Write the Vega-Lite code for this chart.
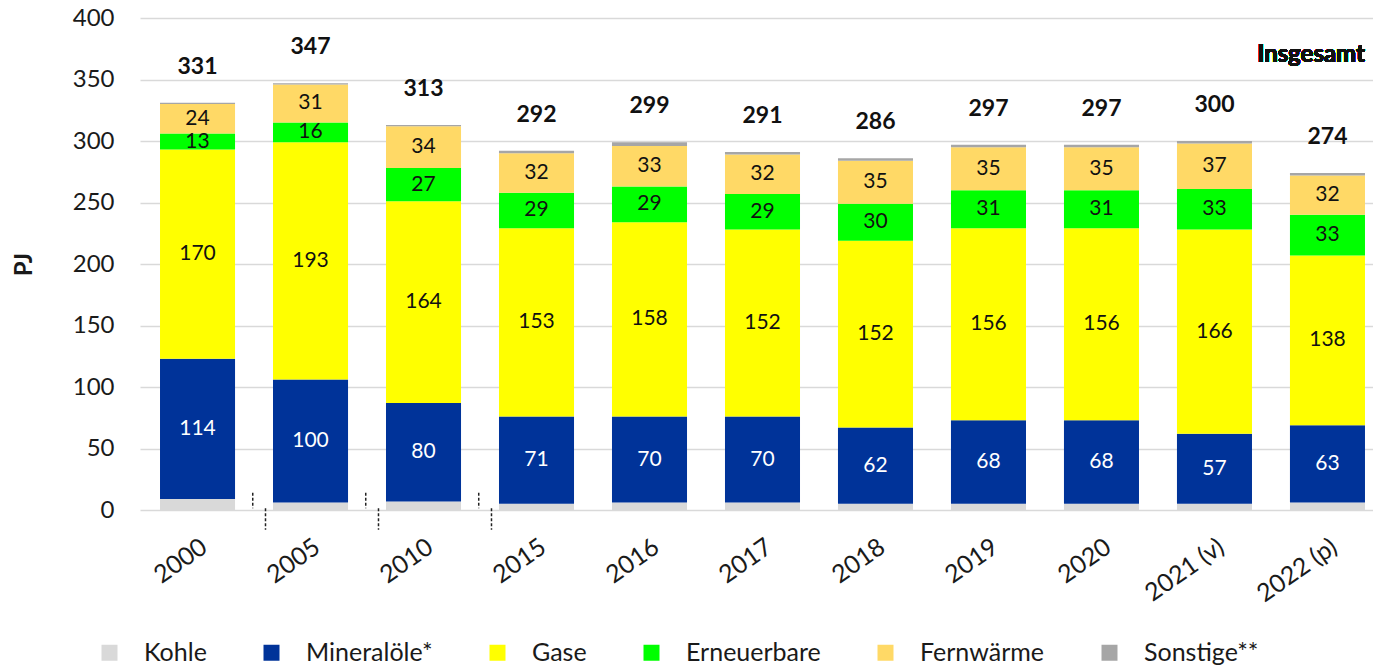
{
  "$schema": "https://vega.github.io/schema/vega-lite/v6.json",
  "width": 1233,
  "height": 492,
  "autosize": "none",
  "padding": {"left": 140, "top": 18, "right": 0, "bottom": 158},
  "background": "white",
  "config": {
    "view": {"stroke": null},
    "font": "Lato",
    "text": {"font": "Lato"}
  },
  "data": {
    "values": [
      {"Jahr": "2000", "Träger": "Kohle", "k": 0, "PJ": 9},
      {"Jahr": "2000", "Träger": "Mineralöle*", "k": 1, "PJ": 114},
      {"Jahr": "2000", "Träger": "Gase", "k": 2, "PJ": 170},
      {"Jahr": "2000", "Träger": "Erneuerbare", "k": 3, "PJ": 13},
      {"Jahr": "2000", "Träger": "Fernwärme", "k": 4, "PJ": 24},
      {"Jahr": "2000", "Träger": "Sonstige**", "k": 5, "PJ": 1},
      {"Jahr": "2005", "Träger": "Kohle", "k": 0, "PJ": 6},
      {"Jahr": "2005", "Träger": "Mineralöle*", "k": 1, "PJ": 100},
      {"Jahr": "2005", "Träger": "Gase", "k": 2, "PJ": 193},
      {"Jahr": "2005", "Träger": "Erneuerbare", "k": 3, "PJ": 16},
      {"Jahr": "2005", "Träger": "Fernwärme", "k": 4, "PJ": 31},
      {"Jahr": "2005", "Träger": "Sonstige**", "k": 5, "PJ": 1},
      {"Jahr": "2010", "Träger": "Kohle", "k": 0, "PJ": 7},
      {"Jahr": "2010", "Träger": "Mineralöle*", "k": 1, "PJ": 80},
      {"Jahr": "2010", "Träger": "Gase", "k": 2, "PJ": 164},
      {"Jahr": "2010", "Träger": "Erneuerbare", "k": 3, "PJ": 27},
      {"Jahr": "2010", "Träger": "Fernwärme", "k": 4, "PJ": 34},
      {"Jahr": "2010", "Träger": "Sonstige**", "k": 5, "PJ": 1},
      {"Jahr": "2015", "Träger": "Kohle", "k": 0, "PJ": 5},
      {"Jahr": "2015", "Träger": "Mineralöle*", "k": 1, "PJ": 71},
      {"Jahr": "2015", "Träger": "Gase", "k": 2, "PJ": 153},
      {"Jahr": "2015", "Träger": "Erneuerbare", "k": 3, "PJ": 29},
      {"Jahr": "2015", "Träger": "Fernwärme", "k": 4, "PJ": 32},
      {"Jahr": "2015", "Träger": "Sonstige**", "k": 5, "PJ": 2},
      {"Jahr": "2016", "Träger": "Kohle", "k": 0, "PJ": 6},
      {"Jahr": "2016", "Träger": "Mineralöle*", "k": 1, "PJ": 70},
      {"Jahr": "2016", "Träger": "Gase", "k": 2, "PJ": 158},
      {"Jahr": "2016", "Träger": "Erneuerbare", "k": 3, "PJ": 29},
      {"Jahr": "2016", "Träger": "Fernwärme", "k": 4, "PJ": 33},
      {"Jahr": "2016", "Träger": "Sonstige**", "k": 5, "PJ": 3},
      {"Jahr": "2017", "Träger": "Kohle", "k": 0, "PJ": 6},
      {"Jahr": "2017", "Träger": "Mineralöle*", "k": 1, "PJ": 70},
      {"Jahr": "2017", "Träger": "Gase", "k": 2, "PJ": 152},
      {"Jahr": "2017", "Träger": "Erneuerbare", "k": 3, "PJ": 29},
      {"Jahr": "2017", "Träger": "Fernwärme", "k": 4, "PJ": 32},
      {"Jahr": "2017", "Träger": "Sonstige**", "k": 5, "PJ": 2},
      {"Jahr": "2018", "Träger": "Kohle", "k": 0, "PJ": 5},
      {"Jahr": "2018", "Träger": "Mineralöle*", "k": 1, "PJ": 62},
      {"Jahr": "2018", "Träger": "Gase", "k": 2, "PJ": 152},
      {"Jahr": "2018", "Träger": "Erneuerbare", "k": 3, "PJ": 30},
      {"Jahr": "2018", "Träger": "Fernwärme", "k": 4, "PJ": 35},
      {"Jahr": "2018", "Träger": "Sonstige**", "k": 5, "PJ": 2},
      {"Jahr": "2019", "Träger": "Kohle", "k": 0, "PJ": 5},
      {"Jahr": "2019", "Träger": "Mineralöle*", "k": 1, "PJ": 68},
      {"Jahr": "2019", "Träger": "Gase", "k": 2, "PJ": 156},
      {"Jahr": "2019", "Träger": "Erneuerbare", "k": 3, "PJ": 31},
      {"Jahr": "2019", "Träger": "Fernwärme", "k": 4, "PJ": 35},
      {"Jahr": "2019", "Träger": "Sonstige**", "k": 5, "PJ": 2},
      {"Jahr": "2020", "Träger": "Kohle", "k": 0, "PJ": 5},
      {"Jahr": "2020", "Träger": "Mineralöle*", "k": 1, "PJ": 68},
      {"Jahr": "2020", "Träger": "Gase", "k": 2, "PJ": 156},
      {"Jahr": "2020", "Träger": "Erneuerbare", "k": 3, "PJ": 31},
      {"Jahr": "2020", "Träger": "Fernwärme", "k": 4, "PJ": 35},
      {"Jahr": "2020", "Träger": "Sonstige**", "k": 5, "PJ": 2},
      {"Jahr": "2021 (v)", "Träger": "Kohle", "k": 0, "PJ": 5},
      {"Jahr": "2021 (v)", "Träger": "Mineralöle*", "k": 1, "PJ": 57},
      {"Jahr": "2021 (v)", "Träger": "Gase", "k": 2, "PJ": 166},
      {"Jahr": "2021 (v)", "Träger": "Erneuerbare", "k": 3, "PJ": 33},
      {"Jahr": "2021 (v)", "Träger": "Fernwärme", "k": 4, "PJ": 37},
      {"Jahr": "2021 (v)", "Träger": "Sonstige**", "k": 5, "PJ": 2},
      {"Jahr": "2022 (p)", "Träger": "Kohle", "k": 0, "PJ": 6},
      {"Jahr": "2022 (p)", "Träger": "Mineralöle*", "k": 1, "PJ": 63},
      {"Jahr": "2022 (p)", "Träger": "Gase", "k": 2, "PJ": 138},
      {"Jahr": "2022 (p)", "Träger": "Erneuerbare", "k": 3, "PJ": 33},
      {"Jahr": "2022 (p)", "Träger": "Fernwärme", "k": 4, "PJ": 32},
      {"Jahr": "2022 (p)", "Träger": "Sonstige**", "k": 5, "PJ": 2}
    ]
  },
  "layer": [
    {
      "mark": {"type": "bar"},
      "encoding": {
        "x": {
          "field": "Jahr", "type": "nominal",
          "scale": {"domain": ["2000", "2005", "2010", "2015", "2016", "2017", "2018", "2019", "2020", "2021 (v)", "2022 (p)"], "paddingInner": 0.336, "paddingOuter": 0.124, "align": 0.714},
          "axis": {"title": null, "labelAngle": -35, "labelFontSize": 25, "labelColor": "#1a1a1a", "labelPadding": 24, "ticks": false, "domain": false, "labelFont": "Lato"}
        },
        "y": {
          "field": "PJ", "type": "quantitative", "stack": "zero",
          "scale": {"domain": [0, 400], "nice": false},
          "axis": {"title": "PJ", "titleFontSize": 24, "titleFontWeight": "bold", "titleColor": "#1a1a1a", "titlePadding": 36, "values": [0, 50, 100, 150, 200, 250, 300, 350, 400], "labelFontSize": 24, "labelColor": "#1a1a1a", "labelPadding": 26, "ticks": false, "domain": false, "gridColor": "#d9d9d9", "gridWidth": 1.5, "labelFont": "Lato", "titleFont": "Lato"}
        },
        "color": {
          "field": "Träger", "type": "nominal",
          "scale": {"domain": ["Kohle", "Mineralöle*", "Gase", "Erneuerbare", "Fernwärme", "Sonstige**"], "range": ["#d9d9d9", "#003399", "#ffff00", "#00ff00", "#ffd966", "#a6a6a6"]},
          "legend": {"title": null, "orient": "none", "direction": "horizontal", "columns": 6, "legendX": -43, "legendY": 622, "symbolType": "square", "symbolSize": 256, "symbolStrokeWidth": 0, "labelFontSize": 25, "labelColor": "#1a1a1a", "labelOffset": 22, "columnPadding": 52, "padding": 0, "labelFont": "Lato"}
        },
        "order": {"field": "k", "type": "quantitative"}
      }
    },
    {
      "mark": {"type": "text", "fontSize": 21},
      "encoding": {
        "x": {"field": "Jahr", "type": "nominal"},
        "y": {"field": "PJ", "type": "quantitative", "stack": "zero", "bandPosition": 0.5},
        "detail": {"field": "Träger", "type": "nominal"},
        "order": {"field": "k", "type": "quantitative"},
        "text": {"condition": {"test": "datum['Träger'] == 'Kohle' || datum['Träger'] == 'Sonstige**'", "value": ""}, "field": "PJ", "type": "quantitative"},
        "color": {"condition": {"test": "datum['Träger'] == 'Mineralöle*'", "value": "#ffffff"}, "value": "#111111"}
      }
    },
    {
      "mark": {"type": "text", "fontSize": 23, "fontWeight": "bold", "dy": -36, "color": "#111111"},
      "encoding": {
        "x": {"field": "Jahr", "type": "nominal"},
        "y": {"aggregate": "sum", "field": "PJ", "type": "quantitative"},
        "text": {"aggregate": "sum", "field": "PJ", "type": "quantitative"}
      }
    },
    {
      "mark": {"type": "text", "fontSize": 24, "fontWeight": "bold", "align": "right", "color": "#111111"},
      "encoding": {
        "x": {"datum": "2022 (p)", "type": "nominal", "bandPosition": 1},
        "y": {"datum": 370, "type": "quantitative"},
        "text": {"value": "Insgesamt"}
      }
    },
    {
      "data": {"values": [{"Jahr": "2005"}, {"Jahr": "2010"}, {"Jahr": "2015"}]},
      "mark": {"type": "rule", "strokeDash": [3, 2], "strokeWidth": 1.5, "color": "#222222"},
      "encoding": {
        "x": {"field": "Jahr", "type": "nominal", "bandPosition": -0.27},
        "y": {"datum": 14, "type": "quantitative"},
        "y2": {"datum": 1.5}
      }
    },
    {
      "data": {"values": [{"Jahr": "2005"}, {"Jahr": "2010"}, {"Jahr": "2015"}]},
      "mark": {"type": "rule", "strokeDash": [3, 2], "strokeWidth": 1.5, "color": "#222222"},
      "encoding": {
        "x": {"field": "Jahr", "type": "nominal", "bandPosition": -0.1},
        "y": {"datum": 1.5, "type": "quantitative"},
        "y2": {"datum": -16}
      }
    }
  ]
}
